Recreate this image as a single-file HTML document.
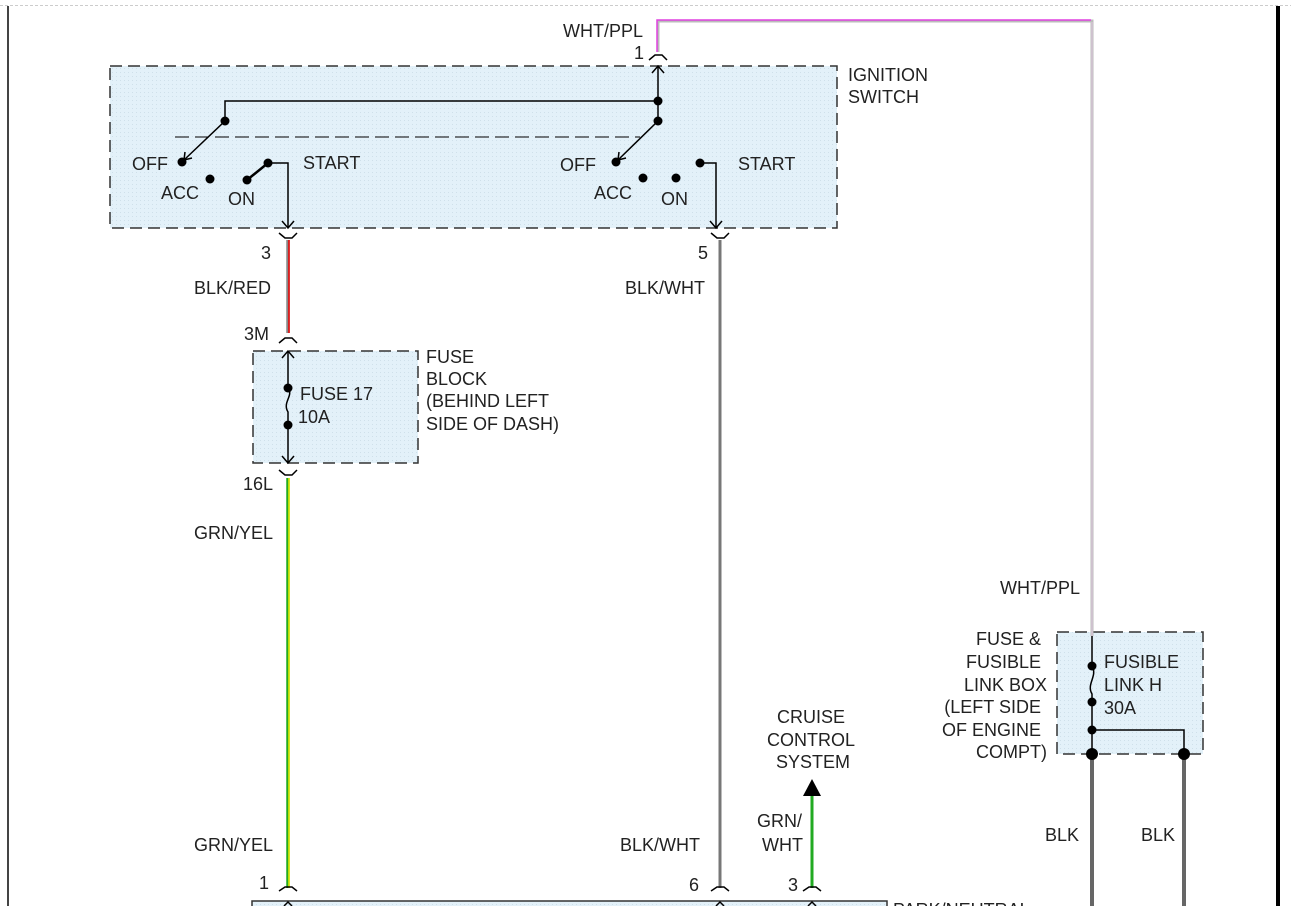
<!DOCTYPE html>
<html><head><style>
html,body{margin:0;padding:0;background:#fff;}
svg{display:block;font-family:"Liberation Sans",Arial,sans-serif;}
text{font-size:18px;fill:#222;}
</style></head><body>
<svg width="1291" height="906" viewBox="0 0 1291 906" xmlns="http://www.w3.org/2000/svg">
<defs>
<pattern id="dot" width="4" height="4" patternUnits="userSpaceOnUse"><rect width="4" height="4" fill="#e3f1f9"/><rect width="1" height="1" fill="#cfe0ea"/></pattern>
</defs>
<line x1="0" y1="5.5" x2="1291" y2="5.5" stroke="#ccc" stroke-dasharray="3,2"/>
<line x1="8" y1="6" x2="8" y2="906" stroke="#444" stroke-width="2"/>
<rect x="1276" y="6" width="4" height="900" fill="#000"/>

<rect x="110" y="66" width="727" height="162" fill="url(#dot)" stroke="#333" stroke-width="1.5" stroke-dasharray="12,6"/>
<rect x="253" y="351" width="165" height="112" fill="url(#dot)" stroke="#333" stroke-width="1.5" stroke-dasharray="12,6"/>
<rect x="1057" y="632" width="146" height="122" fill="url(#dot)" stroke="#333" stroke-width="1.5" stroke-dasharray="12,6"/>
<rect x="252" y="901" width="635" height="10" fill="url(#dot)" stroke="#333" stroke-width="1.5"/>

<polyline points="658,52 658,21 1092,21 1092,636" fill="none" stroke="#bbb" stroke-width="3"/>
<polyline points="657,52 657,20 1091,20" fill="none" stroke="#e040e0" stroke-width="1.5"/>
<line x1="1092" y1="22" x2="1092" y2="636" stroke="#e0c8e0" stroke-width="1"/>
<line x1="288" y1="240" x2="288" y2="333" stroke="#888" stroke-width="3.5"/>
<line x1="289" y1="240" x2="289" y2="333" stroke="#e00" stroke-width="1.5"/>
<line x1="720" y1="240" x2="720" y2="888" stroke="#777" stroke-width="3"/>
<line x1="288" y1="478" x2="288" y2="888" stroke="#2a2" stroke-width="3.5"/>
<line x1="289" y1="478" x2="289" y2="888" stroke="#ee0" stroke-width="1.5"/>
<line x1="812" y1="795" x2="812" y2="888" stroke="#2a2" stroke-width="3"/>
<polygon points="812,779 803,796 821,796" fill="#000"/>
<line x1="1092" y1="754" x2="1092" y2="906" stroke="#666" stroke-width="4"/>
<line x1="1184" y1="754" x2="1184" y2="906" stroke="#666" stroke-width="4"/>

<g fill="none" stroke="#000" stroke-width="1.5">
<path d="M649,60 L655,55 L662,55 L667,60"/>
<path d="M279,233 L285,238 L292,238 L297,233"/>
<path d="M711,233 L717,238 L724,238 L729,233"/>
<path d="M279,343 L285,338 L292,338 L297,343"/>
<path d="M279,470 L285,475 L292,475 L297,470"/>
<path d="M279,891 L285,887 L292,887 L297,891"/>
<path d="M711,891 L717,887 L724,887 L729,891"/>
<path d="M803,891 L809,887 L816,887 L821,891"/>
</g>

<g stroke="#000" stroke-width="1.5" fill="none">
<line x1="658" y1="66" x2="658" y2="121"/>
<path d="M652,73 L658,66 L664,73"/>
<polyline points="658,101 225,101 225,121"/>
<line x1="225" y1="121" x2="184" y2="160"/>
<path d="M185,152 L184,160 L192,158"/>
<line x1="658" y1="121" x2="618" y2="160"/>
<path d="M619,152 L618,160 L626,158"/>
<line x1="175" y1="137" x2="640" y2="137" stroke-dasharray="14,6" stroke-width="1"/>
<line x1="247" y1="180" x2="268" y2="163" stroke-width="2.5"/>
<polyline points="268,163 288,163 288,228"/>
<path d="M282,221 L288,228 L294,221"/>
<polyline points="700,163 716,163 716,228"/>
<path d="M710,221 L716,228 L722,221"/>
<line x1="288" y1="351" x2="288" y2="388"/>
<path d="M282,358 L288,351 L294,358"/>
<path d="M288,388 C294,396 282,402 288,412 L288,425"/>
<line x1="288" y1="425" x2="288" y2="463"/>
<path d="M282,456 L288,463 L294,456"/>
<line x1="1092" y1="636" x2="1092" y2="666"/>
<path d="M1092,666 C1098,676 1086,684 1092,694 L1092,702"/>
<line x1="1092" y1="702" x2="1092" y2="754"/>
<polyline points="1092,730 1184,730 1184,754"/>
<path d="M284,906 L288,902 L292,906"/>
<path d="M716,906 L720,902 L724,906"/>
<path d="M808,906 L812,902 L816,906"/>
</g>
<g fill="#000">
<circle cx="658" cy="101" r="4.5"/><circle cx="658" cy="121" r="4.5"/>
<circle cx="225" cy="121" r="4.5"/><circle cx="182" cy="162" r="4.5"/>
<circle cx="210" cy="179" r="4.5"/><circle cx="247" cy="180" r="4.5"/><circle cx="268" cy="163" r="4.5"/>
<circle cx="616" cy="162" r="4.5"/><circle cx="643" cy="178" r="4.5"/><circle cx="676" cy="178" r="4.5"/><circle cx="700" cy="163" r="4.5"/>
<circle cx="288" cy="388" r="4.5"/><circle cx="288" cy="425" r="4.5"/>
<circle cx="1092" cy="666" r="4.5"/><circle cx="1092" cy="702" r="4.5"/><circle cx="1092" cy="730" r="4.5"/>
<circle cx="1092" cy="754" r="6"/><circle cx="1184" cy="754" r="6"/>
</g>

<text x="563" y="37">WHT/PPL</text>
<text x="634" y="59">1</text>
<text x="848" y="81">IGNITION</text>
<text x="848" y="103">SWITCH</text>
<text x="132" y="170">OFF</text>
<text x="161" y="199">ACC</text>
<text x="228" y="205">ON</text>
<text x="303" y="169">START</text>
<text x="560" y="171">OFF</text>
<text x="594" y="199">ACC</text>
<text x="661" y="205">ON</text>
<text x="738" y="170">START</text>
<text x="261" y="259">3</text>
<text x="698" y="259">5</text>
<text x="194" y="294">BLK/RED</text>
<text x="625" y="294">BLK/WHT</text>
<text x="244" y="340">3M</text>
<text x="426" y="363">FUSE</text>
<text x="426" y="385">BLOCK</text>
<text x="426" y="407">(BEHIND LEFT</text>
<text x="426" y="430">SIDE OF DASH)</text>
<text x="300" y="400">FUSE 17</text>
<text x="298" y="423">10A</text>
<text x="243" y="490">16L</text>
<text x="194" y="539">GRN/YEL</text>
<text x="1000" y="594">WHT/PPL</text>
<g text-anchor="end">
<text x="1041" y="645">FUSE &amp;</text>
<text x="1041" y="668">FUSIBLE</text>
<text x="1047" y="691">LINK BOX</text>
<text x="1041" y="713">(LEFT SIDE</text>
<text x="1041" y="736">OF ENGINE</text>
<text x="1047" y="758">COMPT)</text>
</g>
<text x="1104" y="668">FUSIBLE</text>
<text x="1104" y="691">LINK H</text>
<text x="1104" y="714">30A</text>
<g text-anchor="middle">
<text x="811" y="723">CRUISE</text>
<text x="811" y="746">CONTROL</text>
<text x="813" y="768">SYSTEM</text>
</g>
<text x="757" y="827">GRN/</text>
<text x="762" y="851">WHT</text>
<text x="1045" y="841">BLK</text>
<text x="1141" y="841">BLK</text>
<text x="194" y="851">GRN/YEL</text>
<text x="620" y="851">BLK/WHT</text>
<text x="259" y="889">1</text>
<text x="689" y="891">6</text>
<text x="788" y="891">3</text>
<text x="893" y="916">PARK/NEUTRAL</text>
</svg>
</body></html>
